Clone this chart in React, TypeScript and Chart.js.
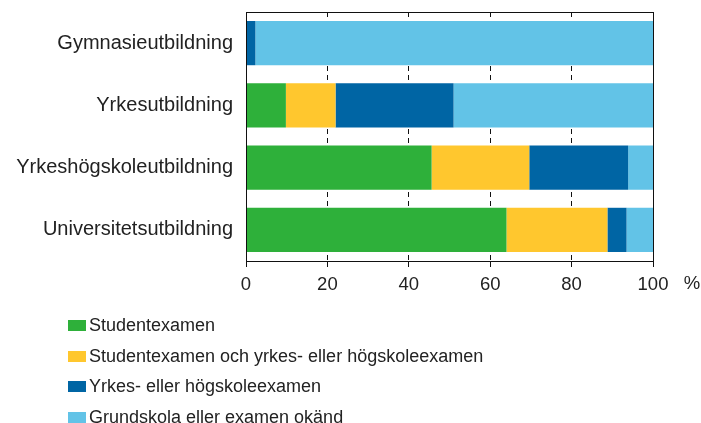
import React, { useEffect, useRef } from "react";
import { Chart, registerables } from "chart.js";

Chart.register(...registerables);

const categories = [
  "Gymnasieutbildning",
  "Yrkesutbildning",
  "Yrkeshögskoleutbildning",
  "Universitetsutbildning",
];
const seriesNames = [
  "Studentexamen",
  "Studentexamen och yrkes- eller högskoleexamen",
  "Yrkes- eller högskoleexamen",
  "Grundskola eller examen okänd",
];
const studentexamen = [0, 9.8, 45.6, 64.0];
const studentOchYrkes = [0, 12.2, 24.0, 24.8];
const yrkesHogskole = [2.3, 29.0, 24.3, 4.7];
const grundskola = [97.7, 49.0, 6.1, 6.5];
const seriesColors = ["#2eb03a", "#ffc72e", "#0065a4", "#62c3e7"];
const xTicks = [0, 20, 40, 60, 80, 100];
const unitLabel = "%";

const FONT = "'Liberation Sans', Arial, sans-serif";
const TEXT = "#222";

const framePlugin = {
  id: "frame",
  afterDraw(chart: any) {
    const { ctx, chartArea } = chart;
    ctx.save();
    ctx.strokeStyle = "#111";
    ctx.lineWidth = 1;
    ctx.strokeRect(
      Math.round(chartArea.left) + 0.5,
      Math.round(chartArea.top) + 0.5,
      Math.round(chartArea.right - chartArea.left),
      Math.round(chartArea.bottom - chartArea.top)
    );
    ctx.fillStyle = TEXT;
    ctx.font = `18.5px ${FONT}`;
    ctx.textAlign = "center";
    ctx.textBaseline = "middle";
    ctx.fillText(unitLabel, chartArea.right + 39, chartArea.bottom + 23);
    ctx.restore();
  },
};

export default function App() {
  const ref = useRef<HTMLCanvasElement>(null);

  useEffect(() => {
    if (!ref.current) return;
    const data = [studentexamen, studentOchYrkes, yrkesHogskole, grundskola];
    const chart = new Chart(ref.current, {
      type: "bar",
      data: {
        labels: categories,
        datasets: data.map((d, i) => ({
          label: seriesNames[i],
          data: d,
          backgroundColor: seriesColors[i],
          borderWidth: 0,
          categoryPercentage: 1,
          barPercentage: 0.71,
        })),
      },
      options: {
        indexAxis: "y",
        animation: false,
        responsive: false,
        layout: { padding: { top: 12, right: 48, left: 0, bottom: 0 } },
        plugins: {
          legend: { display: false },
          tooltip: { enabled: false },
        },
        scales: {
          x: {
            stacked: true,
            min: 0,
            max: 100,
            afterBuildTicks: (scale: any) => {
              scale.ticks = xTicks.map((v) => ({ value: v }));
            },
            afterFit: (scale: any) => {
              scale.height = 39;
            },
            ticks: {
              color: TEXT,
              font: { family: FONT, size: 18.5 },
              padding: 7,
              maxRotation: 0,
            },
            grid: {
              color: (c: any) =>
                c.tick && (c.tick.value === 0 || c.tick.value === 100)
                  ? "rgba(0,0,0,0)"
                  : "#111",
              tickColor: "#111",
              tickLength: 6,
              tickBorderDash: [],
              lineWidth: 1,
            },
            border: { display: true, color: "#111", width: 1, dash: [5, 4] },
          },
          y: {
            stacked: true,
            afterFit: (scale: any) => {
              scale.width = 246;
              scale.paddingTop = 0;
              scale.paddingBottom = 0;
            },
            ticks: {
              color: TEXT,
              font: { family: FONT, size: 20 },
              padding: 13,
            },
            grid: { display: false, drawTicks: false },
            border: { display: false },
          },
        },
      },
      plugins: [framePlugin],
    });
    return () => chart.destroy();
  }, []);

  return (
    <div
      style={{
        position: "fixed",
        left: 0,
        top: 0,
        width: 701,
        height: 423,
        background: "#fff",
        fontFamily: FONT,
      }}
    >
      <canvas
        ref={ref}
        width={701}
        height={300}
        style={{ position: "absolute", left: 0, top: 0, width: 701, height: 300 }}
      />
      <div style={{ position: "absolute", left: 68, top: 310 }}>
        {seriesNames.map((name, i) => (
          <div
            key={name}
            style={{
              display: "flex",
              alignItems: "center",
              height: 30.7,
              fontSize: 18,
              color: TEXT,
              whiteSpace: "nowrap",
            }}
          >
            <span
              style={{
                display: "inline-block",
                width: 18,
                height: 11,
                background: seriesColors[i],
                marginRight: 3,
              }}
            />
            {name}
          </div>
        ))}
      </div>
    </div>
  );
}
